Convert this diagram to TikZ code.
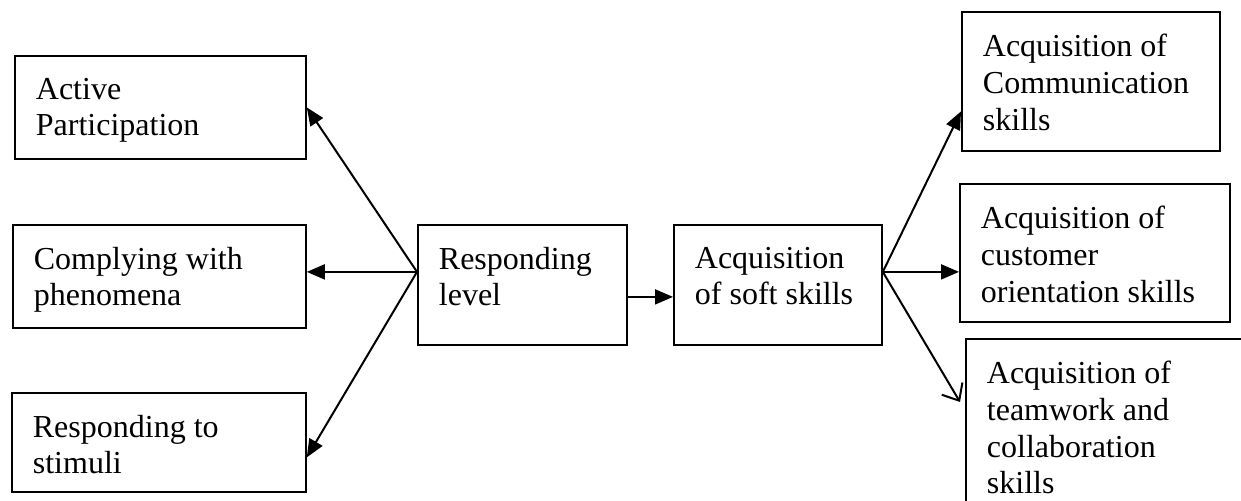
\documentclass[tikz,border=0pt]{standalone}
\usepackage{fontspec}
\setmainfont{Liberation Serif}
\usetikzlibrary{arrows.meta,positioning,calc}
\newcommand{\cellbox}[3]{\parbox[t][#2][t]{#1}{\raggedright #3}}
\tikzset{
  item/.style ={draw, line width=0.9pt, anchor=north west, inner xsep=10.5pt, inner ysep=11pt,
                font=\fontsize{16pt}{18.4pt}\selectfont},
  arrow/.style={-{Triangle[length=9pt,width=7.5pt]}, line width=1pt},
  oarrow/.style={-{Straight Barb[length=7pt,width=12pt]}, line width=1pt},
}
\begin{document}
\begin{tikzpicture}[x=0.5pt, y=-0.5pt]
  \clip (0,0) rectangle (1241,501);
  % left column
  \node[item] (ap) at (14,55)  {\cellbox{124.5pt}{29.5pt}{Active\\Participation}};
  \node[item] (cw) at (12,224) {\cellbox{125.5pt}{29.5pt}{Complying with\\phenomena}};
  \node[item] (rs) at (11,392) {\cellbox{126pt}{27.5pt}{Responding to\\stimuli}};
  % middle
  \node[item] (rl) at (417,224) {\cellbox{83.5pt}{38pt}{Responding\\level}};
  \node[item] (ss) at (673,224) {\cellbox{83pt}{38pt}{Acquisition\\of soft skills}};
  % right column
  \node[item] (cm) at (961,11)  {\cellbox{108pt}{47.5pt}{Acquisition of\\Communication\\skills}};
  \node[item] (co) at (959,183) {\cellbox{114pt}{47pt}{Acquisition of\\customer\\orientation skills}};
  \node[item] (tw) at (965,338) {\cellbox{124pt}{79pt}{Acquisition of\\teamwork and\\collaboration\\skills}};
  % connectors
  \coordinate (rlw) at ([yshift=6.5pt]rl.west);
  \coordinate (sse) at ([yshift=6.5pt]ss.east);
  \draw[arrow] (rlw) -- (ap.east);
  \draw[arrow] (rlw) -- (rlw -| cw.east);
  \draw[arrow] (rlw) -- ([yshift=-7.5pt]rs.east);
  \draw[arrow] ([yshift=-6pt]rl.east) -- ([yshift=-6pt]ss.west);
  \draw[arrow] (sse) -- ([yshift=-15pt]cm.west);
  \draw[arrow] (sse) -- (sse -| co.west);
  \draw[oarrow] (sse) -- ([shift={(-2.5pt,-32pt)}]tw.north west);
\end{tikzpicture}
\end{document}
